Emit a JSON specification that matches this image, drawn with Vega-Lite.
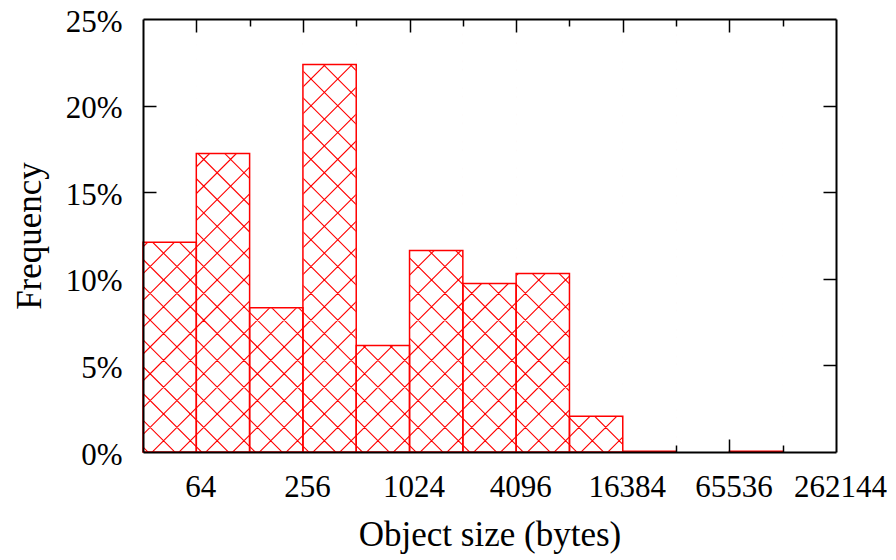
{
"$schema":"https://vega.github.io/schema/vega-lite/v6.json",
"width":693,"height":433,"autosize":"none",
"padding":{"left":143,"top":19,"right":60,"bottom":108},
"background":"white",
"config":{"view":{"stroke":null},"axis":{"grid":false,"labelFont":"Liberation Serif","titleFont":"Liberation Serif","labelColor":"black","titleColor":"black","titleFontWeight":"normal","domainColor":"black","tickColor":"black"}},
"data":{"values":[
{"lo":32,"hi":64,"freq":0.1211},
{"lo":64,"hi":128,"freq":0.1723},
{"lo":128,"hi":256,"freq":0.0833},
{"lo":256,"hi":512,"freq":0.2237},
{"lo":512,"hi":1024,"freq":0.0615},
{"lo":1024,"hi":2048,"freq":0.1163},
{"lo":2048,"hi":4096,"freq":0.0973},
{"lo":4096,"hi":8192,"freq":0.1031},
{"lo":8192,"hi":16384,"freq":0.0207},
{"lo":16384,"hi":32768,"freq":0.0005},
{"lo":32768,"hi":65536,"freq":0},
{"lo":65536,"hi":131072,"freq":0.0005},
{"lo":131072,"hi":262144,"freq":0}
]},
"resolve":{"axis":{"x":"independent","y":"independent"}},
"layer":[
{"data":{"values":[{}]},
 "mark":{"type":"point","clip":true,"filled":false,"color":"#ff0000","opacity":1,"strokeWidth":1.1,"size":4,
  "shape":"M-76.3,-500l-1000,1000m1026.8,-1000l-1000,1000m1026.8,-1000l-1000,1000m1026.8,-1000l-1000,1000m1026.8,-1000l-1000,1000m1026.8,-1000l-1000,1000m1026.8,-1000l-1000,1000m1026.8,-1000l-1000,1000m1026.8,-1000l-1000,1000m1026.8,-1000l-1000,1000m1026.8,-1000l-1000,1000m1026.8,-1000l-1000,1000m1026.8,-1000l-1000,1000m1026.8,-1000l-1000,1000m1026.8,-1000l-1000,1000m1026.8,-1000l-1000,1000m1026.8,-1000l-1000,1000m1026.8,-1000l-1000,1000m1026.8,-1000l-1000,1000m1026.8,-1000l-1000,1000m1026.8,-1000l-1000,1000m1026.8,-1000l-1000,1000m1026.8,-1000l-1000,1000m1026.8,-1000l-1000,1000m1026.8,-1000l-1000,1000m1026.8,-1000l-1000,1000m1026.8,-1000l-1000,1000m1026.8,-1000l-1000,1000m1026.8,-1000l-1000,1000m1026.8,-1000l-1000,1000m1026.8,-1000l-1000,1000m1026.8,-1000l-1000,1000m1026.8,-1000l-1000,1000m1026.8,-1000l-1000,1000m1026.8,-1000l-1000,1000m1026.8,-1000l-1000,1000m1026.8,-1000l-1000,1000m1026.8,-1000l-1000,1000m1026.8,-1000l-1000,1000m1026.8,-1000l-1000,1000m1026.8,-1000l-1000,1000m1026.8,-1000l-1000,1000m1026.8,-1000l-1000,1000m1026.8,-1000l-1000,1000m1026.8,-1000l-1000,1000m1026.8,-1000l-1000,1000M-1084.8,-500l1000,1000m-973.2,-1000l1000,1000m-973.2,-1000l1000,1000m-973.2,-1000l1000,1000m-973.2,-1000l1000,1000m-973.2,-1000l1000,1000m-973.2,-1000l1000,1000m-973.2,-1000l1000,1000m-973.2,-1000l1000,1000m-973.2,-1000l1000,1000m-973.2,-1000l1000,1000m-973.2,-1000l1000,1000m-973.2,-1000l1000,1000m-973.2,-1000l1000,1000m-973.2,-1000l1000,1000m-973.2,-1000l1000,1000m-973.2,-1000l1000,1000m-973.2,-1000l1000,1000m-973.2,-1000l1000,1000m-973.2,-1000l1000,1000m-973.2,-1000l1000,1000m-973.2,-1000l1000,1000m-973.2,-1000l1000,1000m-973.2,-1000l1000,1000m-973.2,-1000l1000,1000m-973.2,-1000l1000,1000m-973.2,-1000l1000,1000m-973.2,-1000l1000,1000m-973.2,-1000l1000,1000m-973.2,-1000l1000,1000m-973.2,-1000l1000,1000m-973.2,-1000l1000,1000m-973.2,-1000l1000,1000m-973.2,-1000l1000,1000m-973.2,-1000l1000,1000m-973.2,-1000l1000,1000m-973.2,-1000l1000,1000m-973.2,-1000l1000,1000m-973.2,-1000l1000,1000m-973.2,-1000l1000,1000m-973.2,-1000l1000,1000m-973.2,-1000l1000,1000m-973.2,-1000l1000,1000m-973.2,-1000l1000,1000m-973.2,-1000l1000,1000m-973.2,-1000l1000,1000"},
 "encoding":{
  "x":{"datum":2896.31,"type":"quantitative","scale":{"type":"log","base":2,"domain":[32,262144],"nice":false},
   "axis":{"orient":"bottom","zindex":1,"values":[64,256,1024,4096,16384,65536,262144],"format":"d","ticks":false,"tickSize":0,"domain":false,"labelFontSize":31,"labelPadding":20,"labelOffset":4,"labelFlush":false,"labelOverlap":false,"title":"Object size (bytes)","titleFontSize":35,"titlePadding":15}},
  "y":{"datum":0.125,"type":"quantitative","scale":{"domain":[0,0.25],"nice":false,"zero":true},
   "axis":{"orient":"left","zindex":1,"values":[0,0.05,0.1,0.15,0.2,0.25],"format":".0%","ticks":false,"tickSize":0,"domain":false,"labelFontSize":31,"labelPadding":21,"labelOffset":3,"labelFlush":false,"labelOverlap":false,"title":"Frequency","titleFontSize":35,"titlePadding":18}}}},
{"mark":{"type":"rect","fill":"white","stroke":"white","strokeWidth":1},
 "encoding":{
  "x":{"field":"lo","type":"quantitative","axis":{"orient":"bottom","zindex":1,"values":[64,128,256,512,1024,2048,4096,8192,16384,32768,65536,131072],"labels":false,"title":null,"domain":true,"domainWidth":2,"tickWidth":1.5,"tickSize":{"condition":{"test":"indexof([64,256,1024,4096,16384,65536],datum.value)>=0","value":-13},"value":-7},"tickOpacity":{"condition":{"test":"datum.value>=32768","value":1},"value":0}}},
  "x2":{"field":"hi"},
  "y":{"field":"freq","type":"quantitative","axis":{"orient":"left","zindex":1,"values":[0.15,0.2],"labels":false,"title":null,"domain":true,"domainWidth":2,"tickWidth":1.5,"tickSize":-13}},
  "y2":{"datum":0.25}}},
{"transform":[{"filter":"datum.freq > 0"}],
 "mark":{"type":"rect","filled":false,"stroke":"#ff0000","strokeWidth":1.5},
 "encoding":{
  "x":{"field":"lo","type":"quantitative","axis":{"orient":"top","zindex":1,"values":[64,128,256,512,1024,2048,4096,8192,16384,32768,65536,131072],"labels":false,"title":null,"domain":true,"domainWidth":2,"tickWidth":1.5,"tickSize":{"condition":{"test":"indexof([64,256,1024,4096,16384,65536],datum.value)>=0","value":-13},"value":-7}}},
  "x2":{"field":"hi"},
  "y":{"field":"freq","type":"quantitative","axis":{"orient":"right","zindex":1,"values":[0.05,0.1,0.15,0.2],"labels":false,"title":null,"domain":true,"domainWidth":2,"tickWidth":1.5,"tickSize":-13}},
  "y2":{"datum":0}}}
]}
